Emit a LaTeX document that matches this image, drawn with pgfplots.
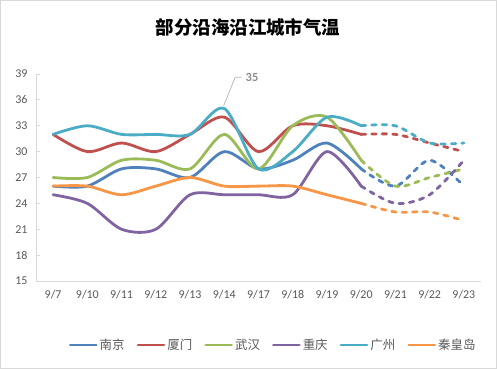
\documentclass[border=0pt]{standalone}
\usepackage{pgfplots}
\usepackage{pgfplotstable}
\pgfplotsset{compat=1.18}
\usepackage{fontspec}
\setmainfont{Carlito}
\newfontfamily\cjk{Noto Sans CJK SC}
\definecolor{cNJ}{HTML}{4F81BD}
\definecolor{cXM}{HTML}{C0504D}
\definecolor{cWH}{HTML}{9BBB59}
\definecolor{cCQ}{HTML}{8064A2}
\definecolor{cGZ}{HTML}{4BACC6}
\definecolor{cQHD}{HTML}{F79646}
\definecolor{labelgray}{HTML}{595959}
\definecolor{axisgray}{HTML}{D9D9D9}
\pgfplotstableread{
x nj xm wh cq gz qhd
0 26 32 27 25 32 26
1 26 30 27 24 33 26
2 28 31 29 21 32 25
3 28 30 29 21 32 26
4 27 32 28 25 32 27
5 30 34 32 25 35 26
6 28 30 28 25 28 26
7 29 33 33 25 30 26
8 31 33 34 30 34 25
9 28 32 29 26 33 24
}\actual
\pgfplotstableread{
x nj xm wh cq gz qhd
9 28 32 29 26 33 24
10 26 32 26 24 33 23
11 29 31 27 25 31 23
12 26 30 28 29 31 22
}\forecast
\begin{document}
\begin{tikzpicture}
\begin{axis}[
  scale only axis, width=445bp, height=207bp,
  xmin=-0.5, xmax=12.5, ymin=15, ymax=39,
  ytick={15,18,...,39},
  xtick={0,...,12},
  xticklabels={9/7,9/10,9/11,9/12,9/13,9/14,9/17,9/18,9/19,9/20,9/21,9/22,9/23},
  axis x line=bottom, axis y line=left,
  axis line style={draw=axisgray, line width=0.9bp, -},
  x tick style={draw=none},
  y tick style={draw=axisgray, line width=0.9bp},
  tick align=inside, major tick length=4bp,
  /pgf/number format/assume math mode=true,
  tick label style={font=\fontsize{12}{13}\selectfont, text=labelgray},
  yticklabel style={xshift=-5bp},
  xticklabel style={yshift=-6bp},
  clip=false,
  legend columns=6,
  legend style={at={(0.533,-0.309)}, anchor=center, draw=none, fill=none,
    font=\cjk\fontsize{12.5}{13}\selectfont, text=labelgray,
    /tikz/every even column/.append style={column sep=10bp}},
  legend image code/.code={\draw[#1, line width=2.8bp, solid] (0bp,0bp) -- (26bp,0bp);},
  every axis plot/.append style={line width=2.8bp, smooth, tension=0.5, mark=none, line cap=round},
]
\addplot[cNJ] table[x=x,y=nj]{\actual};
\addlegendentry{南京}
\addplot[cXM] table[x=x,y=xm]{\actual};
\addlegendentry{厦门}
\addplot[cWH] table[x=x,y=wh]{\actual};
\addlegendentry{武汉}
\addplot[cCQ] table[x=x,y=cq]{\actual};
\addlegendentry{重庆}
\addplot[cGZ] table[x=x,y=gz]{\actual};
\addlegendentry{广州}
\addplot[cQHD] table[x=x,y=qhd]{\actual};
\addlegendentry{秦皇岛}
\addplot[cNJ, dash pattern=on 4.5bp off 6bp, forget plot] table[x=x,y=nj]{\forecast};
\addplot[cXM, dash pattern=on 4.5bp off 6bp, forget plot] table[x=x,y=xm]{\forecast};
\addplot[cWH, dash pattern=on 4.5bp off 6bp, forget plot] table[x=x,y=wh]{\forecast};
\addplot[cCQ, dash pattern=on 4.5bp off 6bp, forget plot] table[x=x,y=cq]{\forecast};
\addplot[cGZ, dash pattern=on 4.5bp off 6bp, forget plot] table[x=x,y=gz]{\forecast};
\addplot[cQHD, dash pattern=on 4.5bp off 6bp, forget plot] table[x=x,y=qhd]{\forecast};
\draw[gray!60, line width=0.7bp] (axis cs:4.98,35.3) -- (axis cs:5.32,38.63) -- (axis cs:5.51,38.63);
\node[font=\bfseries\fontsize{12.5}{13}\selectfont, text=black!45, anchor=west, inner sep=0pt] at (axis cs:5.62,38.6) {35};
\end{axis}
\node[font=\cjk\bfseries\fontsize{18.5}{20}\selectfont] at (212bp,254bp) {部分沿海沿江城市气温};
\draw[axisgray, line width=0.9bp] (-35.55bp,-87.55bp) rectangle (460.55bp,280.55bp);
\end{tikzpicture}
\end{document}
